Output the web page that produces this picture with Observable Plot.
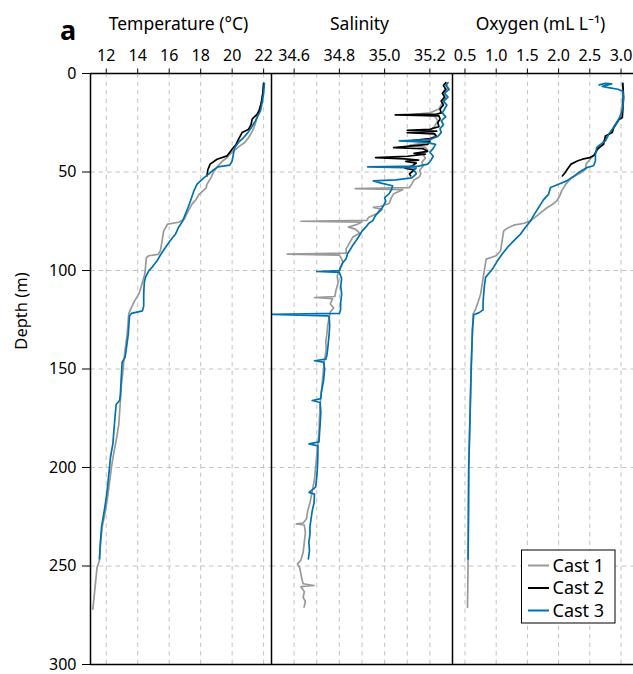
<!DOCTYPE html>
<html><head><meta charset="utf-8">
<script src="https://cdn.jsdelivr.net/npm/d3@7"></script>
<script src="https://cdn.jsdelivr.net/npm/@observablehq/plot@0.6"></script>
<style>
body{margin:0;background:#fff;}
#chart{position:relative;width:633px;height:674px;overflow:hidden;font-family:"Noto Sans",sans-serif;background:#fff;}
#chart svg{position:absolute;top:0;overflow:visible;}
</style></head><body><div id="chart"></div>
<script>
// ---------- labels / scales ----------
const casts = ["Cast 1", "Cast 2", "Cast 3"];
const castColors = ["#999999", "#000000", "#0072B2"];
const panelTitles = ["Temperature (°C)", "Salinity", "Oxygen (mL L⁻¹)"];
const depthDomain = [0, 300];
const depthTicks = [0, 50, 100, 150, 200, 250, 300];
const depthGrid = [50, 100, 150, 200, 250];
const tempDomain = [11, 22.5];
const tempTicks = [12, 14, 16, 18, 20, 22];
const salDomain = [34.5, 35.3];
const salTicks = [34.6, 34.8, 35.0, 35.2];
const salGrid = [34.6, 34.7, 34.8, 34.9, 35.0, 35.1, 35.2];
const oxyDomain = [0.3, 3.2];
const oxyTicks = [0.5, 1.0, 1.5, 2.0, 2.5, 3.0];

// ---------- data: [depth (m), value] ----------
const temp1 = [[5,22.0],[10,21.95],[15,21.85],[19,21.75],[22,21.6],[26,21.45],[29,21.3],[32.5,21.05],[35,20.8],[37,20.45],[39.3,20.1],[41,19.85],[42.5,19.7],[44.4,19.4],[46,19.2],[48,19.0],[50.3,18.8],[53,18.65],[56.2,18.4],[58,18.35],[61.3,17.9],[64,17.7],[66.3,17.45],[70,17.2],[74,16.95],[75.5,16.6],[76.5,15.9],[79.9,15.65],[85,15.55],[90,15.44],[91.8,15.3],[92.5,14.7],[93.5,14.55],[98,14.5],[101.8,14.45],[106,14.3],[110,14.15],[112,14.07],[115.4,13.8],[119.6,13.55],[122,13.43],[127,13.38],[132.3,13.33],[140,13.2],[145.8,13.12],[152,13.05],[157.6,12.97],[166,12.9],[172,12.85],[177.8,12.8],[183,12.7],[188,12.59],[194,12.45],[199.9,12.33],[208,12.2],[216.8,12.06],[224,11.9],[230.3,11.74],[240,11.62],[247.2,11.57],[250.6,11.42],[256,11.35],[262.4,11.27],[268,11.2],[271.9,11.15]];
const temp2 = [[5,22.0],[10,21.95],[15,21.85],[19,21.7],[20.7,21.58],[23.2,21.27],[26,21.2],[28.3,21.05],[30,20.63],[33.4,20.4],[36,20.25],[38.4,20.0],[41.8,19.68],[43.5,19.04],[46,18.6],[49,18.45],[52,18.4]];
const temp3 = [[5,22.05],[10,22.0],[15,21.9],[19,21.8],[22,21.6],[24.1,21.48],[27,21.25],[30,21.0],[32.5,20.73],[35,20.4],[37.6,20.17],[40,20.1],[44.4,20.0],[46.5,19.85],[47.4,19.1],[49,18.8],[51.1,18.5],[53,18.2],[56.2,17.77],[60,17.55],[64.7,17.35],[68,17.2],[71.4,17.03],[75,16.85],[78,16.6],[81.5,16.4],[85,16.05],[88.3,15.76],[92,15.45],[95.1,15.23],[98,14.95],[100.2,14.7],[103.5,14.49],[106,14.42],[112,14.38],[118,14.38],[120.5,14.3],[121.8,13.6],[123,13.48],[132.3,13.4],[140.7,13.26],[144,13.2],[146.6,13.01],[155,12.95],[162.7,12.9],[166,12.85],[168,12.63],[175,12.55],[182,12.48],[188,12.42],[194.8,12.27],[203,12.17],[211.7,12.06],[220.2,11.91],[230.3,11.7],[238,11.63],[246.4,11.57]];

const sal1 = [[4.7,35.27],[7,35.28],[10,35.26],[13,35.27],[16,35.25],[18,35.24],[20,35.2],[20.8,35.12],[21.5,35.22],[24,35.235],[27,35.22],[29,35.2],[31,35.225],[33,35.21],[35,35.19],[36.5,35.11],[37.5,35.18],[39,35.19],[41,35.17],[43,35.18],[45,35.165],[47,35.17],[49,35.155],[51,35.16],[52.6,35.153],[54,35.13],[56,35.12],[57.9,35.11],[58.4,34.87],[59,35.08],[61,35.04],[63,35.03],[66,35.02],[67.5,34.98],[68,34.95],[69,34.99],[71,34.97],[73,34.93],[74.6,34.92],[75.0,34.63],[75.4,34.9],[76.5,34.88],[78,34.84],[79,34.87],[81,34.89],[83,34.86],[85,34.85],[87,34.84],[89,34.83],[91.2,34.83],[91.7,34.57],[92.2,34.8],[94,34.81],[96,34.815],[98,34.805],[100,34.8],[103,34.79],[106,34.795],[110,34.785],[113.2,34.78],[113.7,34.69],[114.3,34.77],[117,34.76],[119,34.775],[121,34.76],[124,34.755],[128,34.748],[132,34.745],[136,34.74],[140,34.742],[145,34.735],[150,34.73],[156,34.725],[162,34.72],[168,34.715],[175,34.712],[182,34.71],[188,34.705],[194,34.7],[200,34.695],[206,34.69],[212,34.68],[218,34.67],[222,34.66],[226,34.655],[228.2,34.64],[228.6,34.61],[229.2,34.645],[233,34.65],[238,34.645],[243,34.64],[247,34.63],[248.9,34.615],[251,34.625],[254,34.63],[257,34.635],[259,34.64],[259.9,34.688],[260.5,34.63],[263,34.645],[266,34.64],[268,34.65],[270.9,34.644]];
const sal2 = [[4.7,35.27],[6,35.26],[8,35.27],[10,35.255],[12,35.265],[14,35.25],[16,35.26],[18,35.245],[20,35.25],[20.6,35.23],[21,35.047],[21.5,35.24],[23,35.245],[25,35.235],[27,35.24],[28.3,35.2],[28.8,35.1],[29.3,35.23],[30,35.1],[30.6,35.22],[32,35.23],[33,35.2],[34,35.12],[34.5,35.2],[36,35.19],[37,35.1],[37.6,35.04],[38.2,35.17],[39.5,35.19],[40.5,35.13],[41,35.18],[42,35.1],[42.7,34.96],[43.3,35.09],[44,35.15],[44.6,35.094],[45.5,35.14],[47,35.12],[48,35.09],[49,35.13],[50,35.12],[51,35.11],[52,35.115]];
const sal3 = [[4.7,35.28],[6,35.27],[8,35.285],[10,35.265],[12,35.28],[14,35.26],[16,35.275],[18,35.265],[20,35.255],[22,35.27],[24,35.25],[26,35.26],[28,35.245],[30,35.25],[32,35.235],[33.5,35.2],[34.2,35.065],[34.8,35.18],[36,35.225],[38,35.215],[40,35.2],[42,35.215],[44,35.205],[46,35.19],[47,35.15],[47.4,34.925],[47.9,35.14],[49,35.13],[51,35.14],[53,35.12],[54,35.05],[54.5,34.95],[55.5,34.98],[57,35.035],[59,35.03],[61,35.02],[63,35.0],[65,35.005],[68,34.99],[70,34.975],[72,34.96],[74.8,34.947],[76,34.93],[78,34.917],[80,34.9],[82,34.89],[85,34.873],[87,34.86],[89,34.85],[91.5,34.836],[94,34.83],[96,34.815],[98.4,34.806],[100,34.8],[100.5,34.7],[101,34.8],[104,34.81],[108,34.806],[112,34.81],[116,34.806],[120,34.805],[121.8,34.8],[122.3,34.504],[123,34.75],[123.8,34.755],[128,34.757],[132,34.755],[138,34.75],[143,34.745],[145,34.74],[145.8,34.69],[146.5,34.73],[150,34.735],[156,34.73],[162,34.72],[165,34.718],[166,34.68],[167,34.715],[172,34.718],[178,34.715],[183,34.712],[187,34.71],[188,34.666],[189,34.705],[194,34.705],[199.9,34.703],[205,34.7],[210,34.695],[212.6,34.666],[213.5,34.69],[218,34.688],[222,34.68],[226,34.675],[230,34.67],[234,34.67],[238,34.665],[242,34.668],[246.4,34.663]];

const oxy1 = [[5,3.02],[10,3.03],[15,3.02],[20,3.0],[24,2.96],[28,2.88],[32,2.78],[35.8,2.69],[38,2.64],[41,2.58],[44.4,2.48],[46,2.44],[48.7,2.43],[50.5,2.35],[52.9,2.21],[56,2.12],[59.6,2.05],[62,2.02],[64.7,1.97],[66.5,1.9],[68,1.82],[71,1.7],[74.8,1.55],[76,1.45],[77,1.28],[78.5,1.18],[79.9,1.12],[84,1.1],[88,1.08],[90,1.07],[92.5,1.0],[94.2,0.84],[98,0.82],[101.8,0.8],[106,0.78],[112,0.75],[116,0.71],[119.6,0.67],[122,0.63],[130,0.62],[149,0.6],[175,0.58],[200,0.56],[225,0.555],[246,0.55],[260,0.545],[271,0.54]];
const oxy2 = [[5,3.03],[12,3.04],[18,3.03],[22.4,3.02],[23.5,2.96],[27.5,2.88],[30,2.86],[31.7,2.75],[35.9,2.72],[38.4,2.62],[41.5,2.57],[42.7,2.5],[43.5,2.38],[44.4,2.3],[46,2.2],[48.6,2.14],[50.5,2.1],[52,2.06]];
const oxy3 = [[5.8,2.65],[5.0,2.75],[5.3,2.85],[6.5,2.7],[7.2,2.8],[8.0,2.95],[9.0,3.03],[12,3.04],[17,3.03],[21,3.0],[24,2.95],[27.4,2.88],[31,2.8],[34.2,2.75],[36.5,2.65],[37.6,2.61],[41,2.59],[44.4,2.59],[46.8,2.56],[47.8,2.45],[50.3,2.32],[52,2.25],[54.5,2.13],[56.5,1.98],[57.9,1.87],[61.2,1.84],[64,1.76],[68,1.68],[71,1.62],[74.8,1.55],[78,1.47],[81.5,1.39],[85,1.28],[88.3,1.18],[91.5,1.1],[95.1,1.02],[99.3,0.94],[101.5,0.88],[103.5,0.83],[108,0.81],[112,0.8],[116,0.79],[120,0.79],[121.5,0.72],[122.5,0.64],[130,0.62],[149,0.6],[175,0.58],[200,0.56],[225,0.555],[246.4,0.55]];

// ---------- layout ----------
const W = 633, H = 674, mTop = 73, mBottom = 10;
const panelX = [90, 271, 452], panelW = 181;
const FONT = "Noto Sans";
const gridStyle = {stroke: "#c2c2c2", strokeWidth: 1, strokeDasharray: "4.5,4"};

const panels = [
  {domain: tempDomain, ticks: tempTicks, grid: tempTicks, fmt: d3.format("d"), series: [temp1, temp2, temp3]},
  {domain: salDomain, ticks: salTicks, grid: salGrid, fmt: d3.format(".1f"), series: [sal1, sal2, sal3]},
  {domain: oxyDomain, ticks: oxyTicks, grid: oxyTicks, fmt: d3.format(".1f"), series: [oxy1, oxy2, oxy3]}
];

const chart = document.getElementById("chart");

panels.forEach((p, i) => {
  const ml = i === 0 ? panelX[0] : 0;
  const marks = [
    Plot.ruleX(p.grid, gridStyle),
    Plot.ruleY(depthGrid, gridStyle),
    ...p.series.map((s, k) => Plot.line(s, {x: d => d[1], y: d => d[0], stroke: castColors[k], strokeWidth: 1.7, strokeLinejoin: "round"})),
    Plot.ruleY(depthDomain, {stroke: "#000", strokeWidth: 1.5}),
    Plot.ruleX([p.domain[0]], {stroke: "#000", strokeWidth: 1.5}),
    Plot.axisX({anchor: "top", ticks: p.ticks, tickFormat: p.fmt, tickSize: 5.5, tickPadding: 7, label: null, stroke: "#000"})
  ];
  if (i === 0) marks.push(Plot.axisY({anchor: "left", ticks: depthTicks, tickSize: 8, tickPadding: 6, label: null}));
  const svg = Plot.plot({
    width: ml + panelW, height: H,
    marginLeft: ml, marginRight: 0, marginTop: mTop, marginBottom: mBottom,
    x: {domain: p.domain, axis: null},
    y: {domain: depthDomain, reverse: true, axis: null},
    style: {fontFamily: FONT, fontSize: "16px", background: "transparent", overflow: "visible", color: "#000"},
    marks
  });
  svg.style.left = (panelX[i] - ml) + "px";
  chart.appendChild(svg);
});

// ---------- text overlay and legend ----------
const ov = d3.select(chart).append("svg").attr("width", W).attr("height", H).style("left", "0px")
  .attr("font-family", FONT);
ov.selectAll("text.title").data(panelTitles).join("text").attr("class", "title")
  .attr("x", (d, i) => panelX[i] + panelW / 2 - 2).attr("y", 30)
  .attr("text-anchor", "middle").attr("font-size", 17.5).text(d => d);
ov.append("text").attr("x", 60).attr("y", 40).attr("font-size", 27).attr("font-weight", "bold").text("a");
ov.append("text").attr("transform", "translate(27,311) rotate(-90)").attr("text-anchor", "middle")
  .attr("font-size", 16.5).text("Depth (m)");

const lg = ov.append("g").attr("transform", "translate(521.5,550)");
lg.append("rect").attr("width", 93.5).attr("height", 73).attr("fill", "#fff").attr("stroke", "#000").attr("stroke-width", 1);
const items = lg.selectAll("g").data(casts).join("g").attr("transform", (d, i) => `translate(0,${15.5 + i * 22.5})`);
items.append("line").attr("x1", 6.5).attr("x2", 27.5).attr("stroke", (d, i) => castColors[i]).attr("stroke-width", 2);
items.append("text").attr("x", 31).attr("dy", "0.35em").attr("font-size", 18).text(d => d);
</script></body></html>
